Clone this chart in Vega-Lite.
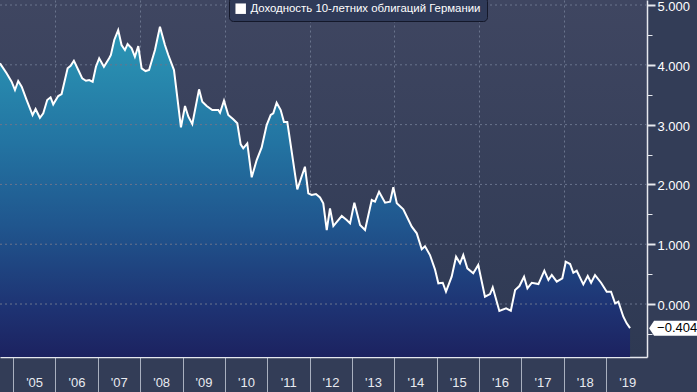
{
  "$schema": "https://vega.github.io/schema/vega-lite/v6.json",
  "width": 647,
  "height": 357,
  "autosize": {"type": "none"},
  "padding": {"left": 0, "top": 0, "right": 50, "bottom": 35},
  "background": "#333d57",
  "config": {
    "view": {"stroke": null, "fill": {"gradient": "linear", "x1": 0, "y1": 0, "x2": 0, "y2": 1, "stops": [{"offset": 0, "color": "#3f4661"}, {"offset": 1, "color": "#2e3953"}]}},
    "font": "Liberation Sans"
  },
  "datasets": {
    "bund": [
      {"date": "2004-09-10", "yield": 4.025},
      {"date": "2004-11-06", "yield": 3.858},
      {"date": "2004-12-19", "yield": 3.717},
      {"date": "2005-01-17", "yield": 3.579},
      {"date": "2005-02-14", "yield": 3.729},
      {"date": "2005-03-16", "yield": 3.634},
      {"date": "2005-04-28", "yield": 3.411},
      {"date": "2005-06-18", "yield": 3.161},
      {"date": "2005-07-14", "yield": 3.261},
      {"date": "2005-08-20", "yield": 3.115},
      {"date": "2005-09-18", "yield": 3.189},
      {"date": "2005-10-22", "yield": 3.411},
      {"date": "2005-11-20", "yield": 3.457},
      {"date": "2005-12-13", "yield": 3.339},
      {"date": "2006-01-25", "yield": 3.478},
      {"date": "2006-02-23", "yield": 3.512},
      {"date": "2006-04-16", "yield": 3.941},
      {"date": "2006-05-12", "yield": 3.985},
      {"date": "2006-06-09", "yield": 4.069},
      {"date": "2006-07-17", "yield": 3.913},
      {"date": "2006-08-20", "yield": 3.774},
      {"date": "2006-09-21", "yield": 3.734},
      {"date": "2006-10-19", "yield": 3.746},
      {"date": "2006-11-18", "yield": 3.717},
      {"date": "2006-12-16", "yield": 3.968},
      {"date": "2007-01-13", "yield": 4.109},
      {"date": "2007-02-23", "yield": 3.968},
      {"date": "2007-04-09", "yield": 4.109},
      {"date": "2007-04-24", "yield": 4.164},
      {"date": "2007-05-23", "yield": 4.415},
      {"date": "2007-06-26", "yield": 4.582},
      {"date": "2007-07-25", "yield": 4.331},
      {"date": "2007-08-23", "yield": 4.247},
      {"date": "2007-09-15", "yield": 4.348},
      {"date": "2007-10-20", "yield": 4.276},
      {"date": "2007-11-17", "yield": 4.135},
      {"date": "2007-12-16", "yield": 4.314},
      {"date": "2008-01-14", "yield": 3.941},
      {"date": "2008-02-17", "yield": 3.896},
      {"date": "2008-03-18", "yield": 3.913},
      {"date": "2008-05-08", "yield": 4.247},
      {"date": "2008-06-20", "yield": 4.637},
      {"date": "2008-08-02", "yield": 4.331},
      {"date": "2008-08-31", "yield": 4.164},
      {"date": "2008-10-19", "yield": 3.913},
      {"date": "2008-12-18", "yield": 2.955},
      {"date": "2009-01-22", "yield": 3.311},
      {"date": "2009-02-20", "yield": 3.132},
      {"date": "2009-03-26", "yield": 3.010},
      {"date": "2009-05-23", "yield": 3.590},
      {"date": "2009-06-20", "yield": 3.383},
      {"date": "2009-07-28", "yield": 3.311},
      {"date": "2009-09-14", "yield": 3.244},
      {"date": "2009-11-05", "yield": 3.244},
      {"date": "2009-11-20", "yield": 3.199},
      {"date": "2009-12-24", "yield": 3.400},
      {"date": "2010-01-30", "yield": 3.161},
      {"date": "2010-03-14", "yield": 3.089},
      {"date": "2010-04-18", "yield": 3.022},
      {"date": "2010-05-17", "yield": 2.671},
      {"date": "2010-06-08", "yield": 2.604},
      {"date": "2010-07-13", "yield": 2.687},
      {"date": "2010-08-20", "yield": 2.119},
      {"date": "2010-10-02", "yield": 2.408},
      {"date": "2010-11-14", "yield": 2.620},
      {"date": "2010-12-27", "yield": 2.993},
      {"date": "2011-01-31", "yield": 3.161},
      {"date": "2011-02-22", "yield": 3.189},
      {"date": "2011-03-23", "yield": 3.366},
      {"date": "2011-04-27", "yield": 3.244},
      {"date": "2011-05-25", "yield": 3.043},
      {"date": "2011-06-23", "yield": 3.043},
      {"date": "2011-09-17", "yield": 1.918},
      {"date": "2011-11-22", "yield": 2.296},
      {"date": "2011-12-21", "yield": 1.851},
      {"date": "2012-01-19", "yield": 1.823},
      {"date": "2012-02-25", "yield": 1.839},
      {"date": "2012-03-31", "yield": 1.781},
      {"date": "2012-04-28", "yield": 1.684},
      {"date": "2012-05-28", "yield": 1.237},
      {"date": "2012-06-25", "yield": 1.600},
      {"date": "2012-07-24", "yield": 1.304},
      {"date": "2012-10-04", "yield": 1.472},
      {"date": "2012-11-16", "yield": 1.405},
      {"date": "2012-12-15", "yield": 1.349},
      {"date": "2013-01-21", "yield": 1.694},
      {"date": "2013-03-11", "yield": 1.321},
      {"date": "2013-04-23", "yield": 1.237},
      {"date": "2013-06-20", "yield": 1.739},
      {"date": "2013-07-18", "yield": 1.711},
      {"date": "2013-08-22", "yield": 1.878},
      {"date": "2013-10-13", "yield": 1.694},
      {"date": "2013-11-25", "yield": 1.711},
      {"date": "2013-12-23", "yield": 1.952},
      {"date": "2014-01-22", "yield": 1.684},
      {"date": "2014-03-19", "yield": 1.584},
      {"date": "2014-05-31", "yield": 1.293},
      {"date": "2014-07-13", "yield": 1.182},
      {"date": "2014-08-25", "yield": 0.915},
      {"date": "2014-09-22", "yield": 0.965},
      {"date": "2014-11-04", "yield": 0.819},
      {"date": "2014-12-17", "yield": 0.580},
      {"date": "2015-01-15", "yield": 0.346},
      {"date": "2015-02-22", "yield": 0.356},
      {"date": "2015-03-22", "yield": 0.206},
      {"date": "2015-05-10", "yield": 0.457},
      {"date": "2015-06-17", "yield": 0.791},
      {"date": "2015-07-21", "yield": 0.681},
      {"date": "2015-08-18", "yield": 0.819},
      {"date": "2015-09-22", "yield": 0.597},
      {"date": "2015-11-12", "yield": 0.513},
      {"date": "2015-12-25", "yield": 0.652},
      {"date": "2016-02-21", "yield": 0.122},
      {"date": "2016-04-05", "yield": 0.167},
      {"date": "2016-04-28", "yield": 0.279},
      {"date": "2016-06-24", "yield": -0.117},
      {"date": "2016-08-21", "yield": -0.072},
      {"date": "2016-10-01", "yield": -0.112},
      {"date": "2016-11-07", "yield": 0.234},
      {"date": "2016-12-14", "yield": 0.301},
      {"date": "2017-01-23", "yield": 0.457},
      {"date": "2017-02-21", "yield": 0.263},
      {"date": "2017-03-31", "yield": 0.356},
      {"date": "2017-05-27", "yield": 0.334},
      {"date": "2017-07-17", "yield": 0.557},
      {"date": "2017-08-21", "yield": 0.401},
      {"date": "2017-09-19", "yield": 0.485},
      {"date": "2017-11-01", "yield": 0.373},
      {"date": "2017-12-19", "yield": 0.430},
      {"date": "2018-01-18", "yield": 0.707},
      {"date": "2018-02-24", "yield": 0.669},
      {"date": "2018-03-24", "yield": 0.523},
      {"date": "2018-04-22", "yield": 0.557},
      {"date": "2018-06-18", "yield": 0.329},
      {"date": "2018-07-26", "yield": 0.468},
      {"date": "2018-08-24", "yield": 0.356},
      {"date": "2018-09-27", "yield": 0.485},
      {"date": "2018-11-18", "yield": 0.356},
      {"date": "2019-01-06", "yield": 0.206},
      {"date": "2019-02-12", "yield": 0.206},
      {"date": "2019-03-19", "yield": 0.012},
      {"date": "2019-04-16", "yield": 0.038},
      {"date": "2019-05-29", "yield": -0.212},
      {"date": "2019-06-27", "yield": -0.323},
      {"date": "2019-07-26", "yield": -0.404}
    ],
    "hgrid": [
      {"level": 0}, {"level": 1}, {"level": 2}, {"level": 3}, {"level": 4}, {"level": 5}
    ]
  },
  "resolve": {"axis": {"y": "independent", "x": "independent"}},
  "layer": [
    {
      "data": {"name": "bund"},
      "mark": {"type": "area", "clip": true, "fill": {"gradient": "linear", "x1": 0, "y1": 0, "x2": 0, "y2": 1, "stops": [
        {"offset": 0, "color": "#2b98b6"},
        {"offset": 0.35, "color": "#2374a2"},
        {"offset": 0.6, "color": "#20568e"},
        {"offset": 0.85, "color": "#1e3373"},
        {"offset": 1, "color": "#1c2260"}
      ]}},
      "encoding": {
        "x": {
          "field": "date", "type": "temporal",
          "scale": {"domain": [{"year": 2004, "month": 9, "date": 10}, {"year": 2019, "month": 12, "date": 19}]},
          "axis": {
            "title": null,
            "values": [
              {"year": 2005, "month": 1, "date": 1}, {"year": 2006, "month": 1, "date": 1}, {"year": 2007, "month": 1, "date": 1},
              {"year": 2008, "month": 1, "date": 1}, {"year": 2009, "month": 1, "date": 1}, {"year": 2010, "month": 1, "date": 1},
              {"year": 2011, "month": 1, "date": 1}, {"year": 2012, "month": 1, "date": 1}, {"year": 2013, "month": 1, "date": 1},
              {"year": 2014, "month": 1, "date": 1}, {"year": 2015, "month": 1, "date": 1}, {"year": 2016, "month": 1, "date": 1},
              {"year": 2017, "month": 1, "date": 1}, {"year": 2018, "month": 1, "date": 1}, {"year": 2019, "month": 1, "date": 1}
            ],
            "format": "'%y",
            "labelOffset": 21,
            "labelFlush": false,
            "labelOverlap": false,
            "tickSize": 35,
            "tickColor": "#a9b0bf",
            "tickWidth": 1,
            "labelPadding": -16,
            "labelColor": "#e8eaf0",
            "labelFontSize": 13,
            "labelFont": "Liberation Sans",
            "domainColor": "#e6e8ee",
            "domainWidth": 1.5,
            "grid": true,
            "gridColor": "#6a748d",
            "gridDash": [2, 3],
            "gridWidth": 1,
            "gridOpacity": {"condition": {"test": "year(datum.value) % 2 == 1", "value": 0}, "value": 1}
          }
        },
        "y": {
          "field": "yield", "type": "quantitative",
          "scale": {"domain": [-0.886, 5.084], "nice": false, "zero": false},
          "axis": {
            "orient": "right",
            "title": null,
            "values": [0, 1, 2, 3, 4, 5],
            "format": ".3f",
            "tickSize": 8,
            "tickWidth": 2,
            "tickColor": "#e6e8ee",
            "grid": false,
            "domainColor": "#e6e8ee",
            "domainWidth": 1.5,
            "labelColor": "#ffffff",
            "labelFontSize": 13,
            "labelFont": "Liberation Sans",
            "labelPadding": 2,
            "labelOffset": 1.5,
            "labelFlush": false,
            "labelOverlap": false
          }
        },
        "y2": {"datum": -0.886}
      }
    },
    {
      "data": {"name": "hgrid"},
      "mark": {"type": "rule", "color": "#6a748d", "strokeDash": [2, 3], "strokeWidth": 1},
      "encoding": {
        "y": {"field": "level", "type": "quantitative", "axis": null}
      }
    },
    {
      "data": {"name": "bund"},
      "mark": {"type": "line", "color": "#ffffff", "strokeWidth": 2, "clip": true},
      "encoding": {
        "x": {"field": "date", "type": "temporal", "axis": null},
        "y": {
          "field": "yield", "type": "quantitative",
          "axis": {
            "orient": "right",
            "title": null,
            "values": [-0.5, 0.5, 1.5, 2.5, 3.5, 4.5],
            "labels": false,
            "grid": false,
            "domain": false,
            "tickSize": 5,
            "tickWidth": 1,
            "tickColor": "#e6e8ee"
          }
        },
        "color": {
          "datum": "Доходность 10-летних облигаций Германии",
          "scale": {"range": ["#ffffff"]},
          "legend": {
            "orient": "none",
            "legendX": 229,
            "legendY": -3,
            "title": null,
            "fillColor": "#2f3a58",
            "strokeColor": "#14182a",
            "cornerRadius": 4,
            "padding": 6,
            "symbolType": "square",
            "symbolSize": 110,
            "symbolFillColor": "#ffffff",
            "symbolStrokeWidth": 0,
            "labelColor": "#ffffff",
            "labelFontSize": 11.4,
            "labelFont": "Liberation Sans",
            "labelLimit": 400,
            "encode": {"symbols": {"update": {"fill": {"value": "#ffffff"}, "strokeWidth": {"value": 0}, "opacity": {"value": 1}}}}
          }
        }
      }
    },
    {
      "data": {"name": "bund"},
      "transform": [
        {"window": [{"op": "row_number", "as": "rn"}], "sort": [{"field": "date", "order": "descending"}]},
        {"filter": "datum.rn == 1"}
      ],
      "mark": {"type": "point", "shape": "M -1 0 L -0.8 -0.3 L 1 -0.3 L 1 0.3 L -0.8 0.3 Z", "size": 2500, "filled": true, "color": "#ffffff", "opacity": 1, "xOffset": 44, "clip": false},
      "encoding": {
        "x": {"field": "date", "type": "temporal", "axis": null},
        "y": {"field": "yield", "type": "quantitative", "axis": null}
      }
    },
    {
      "data": {"name": "bund"},
      "transform": [
        {"window": [{"op": "row_number", "as": "rn"}], "sort": [{"field": "date", "order": "descending"}]},
        {"filter": "datum.rn == 1"}
      ],
      "mark": {"type": "text", "align": "left", "baseline": "middle", "dx": 27, "color": "#000000", "fontSize": 13, "font": "Liberation Sans", "clip": false},
      "encoding": {
        "x": {"field": "date", "type": "temporal", "axis": null},
        "y": {"field": "yield", "type": "quantitative", "axis": null},
        "text": {"field": "yield", "type": "quantitative", "format": ".3f"}
      }
    }
  ]
}
